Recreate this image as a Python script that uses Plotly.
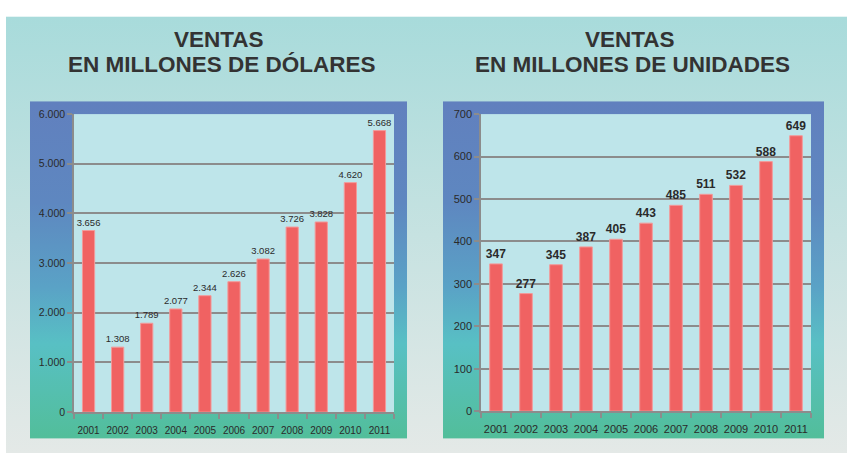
import base64
import plotly.graph_objects as go

# --- data -------------------------------------------------------------
years = ["2001", "2002", "2003", "2004", "2005", "2006",
         "2007", "2008", "2009", "2010", "2011"]
ventas_dolares = [3656, 1308, 1789, 2077, 2344, 2626, 3082, 3726, 3828, 4620, 5668]
ventas_unidades = [347, 277, 345, 387, 405, 443, 485, 511, 532, 588, 649]

title_line1 = "VENTAS"
title_left = "EN MILLONES DE DÓLARES"
title_right = "EN MILLONES DE UNIDADES"

# --- page geometry (pixels) ------------------------------------------
W, H = 847, 459
FONT = "Arial, Liberation Sans, sans-serif"
BAR = "#F06262"
GRID = "#8c8c8c"
TXT = "#2a2a2a"

# plot areas: (left, top, right, bottom)
LEFT_PLOT = (74, 111, 394, 417)
RIGHT_PLOT = (481, 111, 811, 416)


def xdom(a, b):
    return [a / W, b / W]


def ydom(top, bottom):
    return [1 - bottom / H, 1 - top / H]


def rect(box, fill):
    l, t, r, b = box
    return f"<rect x='{l}' y='{t}' width='{r - l}' height='{b - t}' fill='{fill}'/>"


# background: page gradient, two framed panels with blue-to-green fills,
# and the pale cyan plotting areas
svg = f"""<svg xmlns='http://www.w3.org/2000/svg' width='{W}' height='{H}' viewBox='0 0 {W} {H}' preserveAspectRatio='none'>
<defs>
<linearGradient id='bg' x1='0' y1='0' x2='0' y2='1'>
<stop offset='0' stop-color='#A8DBDB'/><stop offset='0.5' stop-color='#C6E2E1'/><stop offset='1' stop-color='#E4E9E7'/>
</linearGradient>
<linearGradient id='pn' x1='0' y1='0' x2='0' y2='1'>
<stop offset='0' stop-color='#6180BE'/><stop offset='0.3' stop-color='#5E87C0'/>
<stop offset='0.55' stop-color='#5AA2C6'/><stop offset='0.72' stop-color='#58C0C4'/>
<stop offset='1' stop-color='#52BE9A'/>
</linearGradient>
</defs>
<rect x='0' y='0' width='{W}' height='{H}' fill='#ffffff'/>
<rect x='6' y='11' width='{W-6}' height='{H-11}' fill='url(#bg)'/>
{rect((30, 98, 407, 444), 'url(#pn)')}
{rect((443, 98, 824, 444), 'url(#pn)')}
{rect(LEFT_PLOT, '#BEE5EA')}
{rect(RIGHT_PLOT, '#BEE5EA')}
</svg>"""
bg_uri = "data:image/svg+xml;base64," + base64.b64encode(svg.encode()).decode()

fig = go.Figure()

fig.add_trace(go.Bar(
    x=years, y=ventas_dolares, xaxis="x", yaxis="y",
    marker=dict(color=BAR, line=dict(color="#F39A9A", width=1)),
    texttemplate="%{y:,d}", textposition="outside", cliponaxis=False,
    constraintext="none",
    textfont=dict(family=FONT, size=9.5, color=TXT),
    hoverinfo="x+y",
))
fig.add_trace(go.Bar(
    x=years, y=ventas_unidades, xaxis="x2", yaxis="y2",
    marker=dict(color=BAR, line=dict(color="#F39A9A", width=1)),
    texttemplate="<b>%{y}</b>", textposition="outside", cliponaxis=False,
    constraintext="none",
    textfont=dict(family=FONT, size=12, color=TXT),
    hoverinfo="x+y",
))


def axis_style(size):
    return dict(
        showline=True, linecolor=GRID, linewidth=1.5,
        ticks="outside", tickcolor=GRID, ticklen=5, tickwidth=1.5,
        tickfont=dict(family=FONT, size=size, color=TXT),
        fixedrange=True,
    )


def title_ann(text, x_px, y_px):
    return dict(text=f"<b>{text}</b>", xref="paper", yref="paper",
                x=x_px / W, y=1 - y_px / H, xanchor="center", yanchor="middle",
                showarrow=False, borderpad=0,
                font=dict(family=FONT, size=22.5, color="#333333"))


fig.update_layout(
    width=W, height=H,
    margin=dict(l=0, r=0, t=0, b=0),
    paper_bgcolor="rgba(0,0,0,0)",
    plot_bgcolor="rgba(0,0,0,0)",
    separators=",.",
    showlegend=False,
    bargap=0.58,
    images=[dict(source=bg_uri, xref="paper", yref="paper", x=0, y=1,
                 sizex=1, sizey=1, sizing="stretch", layer="below")],
    xaxis=dict(domain=xdom(LEFT_PLOT[0], LEFT_PLOT[2]), anchor="y",
               tickson="boundaries", tickangle=0, showgrid=False,
               ticklabelstandoff=8, **axis_style(10)),
    yaxis=dict(domain=ydom(LEFT_PLOT[1], LEFT_PLOT[3]), anchor="x",
               range=[0, 6000], dtick=1000, tickformat=",d", showgrid=True,
               gridcolor=GRID, gridwidth=1.5, zeroline=False,
               **axis_style(10.5)),
    xaxis2=dict(domain=xdom(RIGHT_PLOT[0], RIGHT_PLOT[2]), anchor="y2",
                tickson="boundaries", tickangle=0, showgrid=False,
                ticklabelstandoff=7, **axis_style(11)),
    yaxis2=dict(domain=ydom(RIGHT_PLOT[1], RIGHT_PLOT[3]), anchor="x2",
                range=[0, 700], dtick=100, showgrid=True, gridcolor=GRID,
                gridwidth=1.5, zeroline=False, **axis_style(11)),
    annotations=[
        title_ann(title_line1, 219, 34.5),
        title_ann(title_left, 222, 60.5),
        title_ann(title_line1, 630, 34.5),
        title_ann(title_right, 632, 60.5),
    ],
)

fig.write_html("out.html")
